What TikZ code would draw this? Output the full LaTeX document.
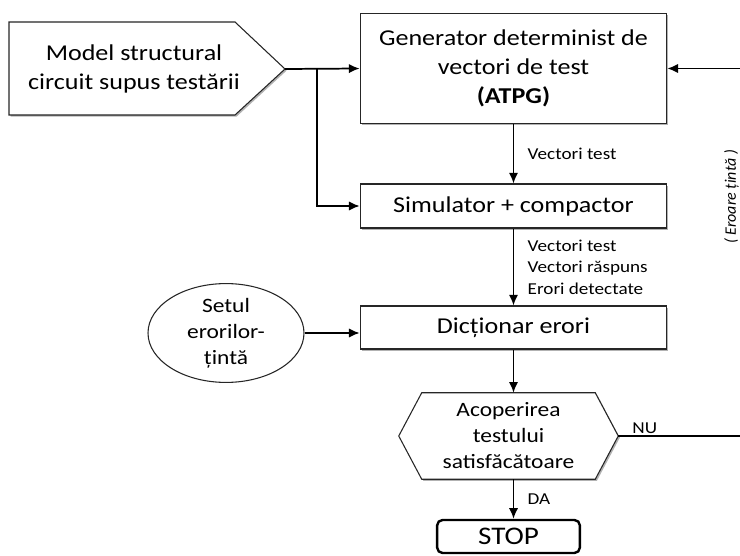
\documentclass[tikz,border=0pt]{standalone}
\usepackage{fontspec}
\setmainfont{Carlito}[FakeStretch=1.15]
\newfontfamily\plainfont{Carlito}
\usetikzlibrary{positioning,arrows.meta,shapes.geometric,shadows,backgrounds}
\newcommand{\mainsz}{\fontsize{17}{21.5}\selectfont}
\newcommand{\smallsz}{\fontsize{15.3}{19.5}\selectfont}
\newcommand{\labsz}{\fontsize{12.5}{16}\selectfont}

\begin{document}
\begin{tikzpicture}[x=0.75pt,y=-0.75pt,
  every node/.style={font=\mainsz,align=center,inner sep=0pt},
  shade/.style={drop shadow={shadow xshift=1.2pt,shadow yshift=-1.2pt,opacity=0.3,fill=black}},
  outline/.style={draw=black!85,line width=0.8pt,fill=white,shade},
  box/.style={outline,minimum width=230pt},
  lab/.style={font=\labsz,align=left},
  conn/.style={line width=1.3pt,black},
  >={Latex[length=8pt,width=7pt]}]
\useasboundingbox (0,0) rectangle (740,556);

% model of the circuit (pentagon drawn behind its text)
\coordinate (mtip) at (285,69);
\node (model) at (134,69) {Model structural\\circuit supus testării};

\node[box,minimum height=83pt] (gen) at (513.5,68.5) {Generator determinist de\\vectori de test\\\textbf{(ATPG)}};
\node[box,minimum height=33pt] (sim) at (513.5,206) {Simulator + compactor};
\node[box,minimum height=32.25pt] (dict) at (513.5,327.5) {Dicționar erori};
\node[ellipse,draw=black!85,line width=0.8pt,minimum width=117pt,minimum height=69.75pt,font=\smallsz] (set) at (226,333) {Setul\\erorilor-\\țintă};

% decision (hexagon drawn behind the node)
\node[minimum width=164.25pt,minimum height=64.5pt,font=\smallsz] (cover) at (508.5,436) {Acoperirea\\testului\\satisfăcătoare};

\begin{scope}[on background layer]
\draw[outline] (9,22) -- (235,22) -- (mtip) -- (235,115) -- (9,115) -- cycle;
\draw[outline] (cover.west) -- ([xshift=17.25pt]cover.north west) -- ([xshift=-17.25pt]cover.north east)
  -- (cover.east) -- ([xshift=-17.25pt]cover.south east) -- ([xshift=17.25pt]cover.south west) -- cycle;
\end{scope}

\node[draw=black,line width=1.8pt,rounded corners=4pt,fill=white,minimum width=107pt,minimum height=24.75pt,
      font=\fontsize{19}{22}\selectfont] (stop) at (508.5,536.5) {STOP};

\node[rotate=90,font=\plainfont\fontsize{12}{14}\selectfont\itshape] (err) at (731.5,197) {( Eroare țintă )};

\coordinate (split) at (317,69);
\coordinate (edge) at (742,436);

\draw[conn,->] (mtip) -- (gen.west);
\draw[conn,->] (split) |- (sim.west);
\draw[conn,->] (gen) -- node[lab,right=10pt]{Vectori test} (sim);
\draw[conn,->] (sim) -- node[lab,right=10pt]{Vectori test\\Vectori răspuns\\Erori detectate} (dict);
\draw[conn,->] (set.east) -- (set.east -| dict.west);
\draw[conn,->] (dict) -- (dict |- cover.north);
\draw[conn,->] (cover.south -| dict) -- node[lab,right=10pt]{DA} (stop.north -| dict);
\draw[conn,->] (cover.east) -- node[lab,pos=0,anchor=south west,xshift=10pt,yshift=1.5pt]{NU} (edge) |- (gen.east);
\end{tikzpicture}
\end{document}
